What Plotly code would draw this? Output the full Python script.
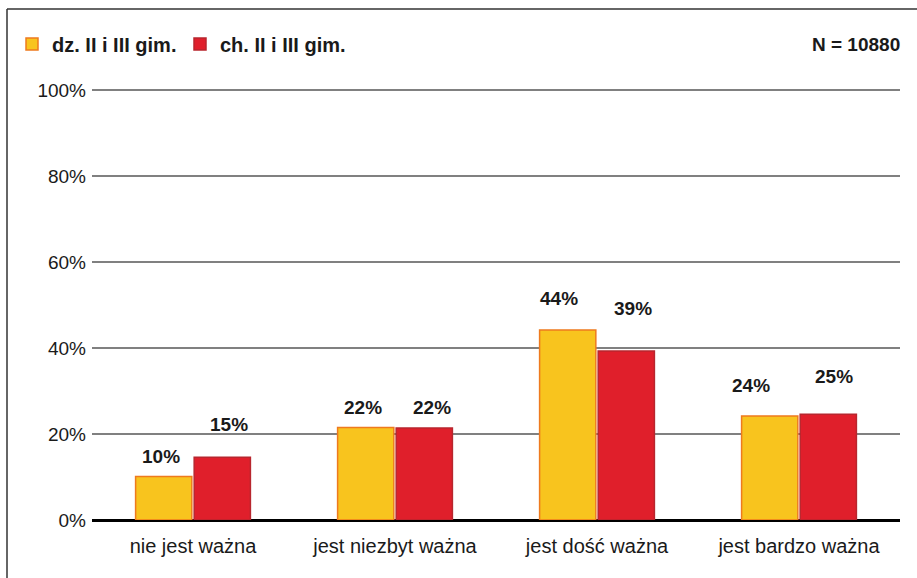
import plotly.graph_objects as go

categories = ["nie jest ważna", "jest niezbyt ważna", "jest dość ważna", "jest bardzo ważna"]
series_names = ["dz. II i III gim.", "ch. II i III gim."]
girls = [10.1, 21.5, 44.2, 24.2]
boys = [14.6, 21.4, 39.3, 24.6]
girls_labels = ["10%", "22%", "44%", "24%"]
boys_labels = ["15%", "22%", "39%", "25%"]
y_ticks = [0, 20, 40, 60, 80, 100]
y_tick_text = ["0%", "20%", "40%", "60%", "80%", "100%"]
n_text = "N = 10880"

FONT = "Liberation Sans, Arial, sans-serif"
W, H = 917, 578
L, R, T, B = 92, 17, 88, 58
PW, PH = W - L - R, H - T - B
PX_PER_UNIT = 4.3
Y_MAX = 100 + (90 - T) / PX_PER_UNIT

fig = go.Figure()
fig.add_trace(go.Bar(x=categories, y=girls, name="<b>%s</b>" % series_names[0],
                     marker=dict(color="#F8C41E", line=dict(color="#EE7A1E", width=1.5))))
fig.add_trace(go.Bar(x=categories, y=boys, name="<b>%s</b>" % series_names[1],
                     marker=dict(color="#E01F2B", line=dict(color="#B8262E", width=1.5))))

# data labels (pixel offsets are styling only)
g_dy = [20, 20, 31, 30]
g_dx = [-3, -3, -9, -19]
b_dy = [33, 20, 43, 38]
b_dx = [6, 7, 6, 5]
half = 29.5
for i, c in enumerate(categories):
    fig.add_annotation(x=c, y=girls[i], text="<b>%s</b>" % girls_labels[i], showarrow=False,
                       xshift=-half + g_dx[i], yshift=g_dy[i], yanchor="middle",
                       font=dict(family=FONT, size=19, color="#1a1a1a"))
    fig.add_annotation(x=c, y=boys[i], text="<b>%s</b>" % boys_labels[i], showarrow=False,
                       xshift=half + b_dx[i], yshift=b_dy[i], yanchor="middle",
                       font=dict(family=FONT, size=19, color="#1a1a1a"))

fig.add_annotation(xref="paper", yref="paper", x=(902 - L) / PW, y=(H - B - 44) / PH,
                   xanchor="right", yanchor="middle", showarrow=False,
                   text="<b>%s</b>" % n_text, font=dict(family=FONT, size=19, color="#1a1a1a"))

# frame (top and left border)
fig.add_shape(type="line", xref="paper", yref="paper",
              x0=(7 - L) / PW, x1=(W + 5 - L) / PW, y0=(H - B - 9) / PH, y1=(H - B - 9) / PH,
              line=dict(color="#333333", width=1.5))
fig.add_shape(type="line", xref="paper", yref="paper",
              x0=(7 - L) / PW, x1=(7 - L) / PW, y0=(H - B - 9) / PH, y1=(H - B - H - 5) / PH,
              line=dict(color="#333333", width=1.5))

fig.update_layout(
    width=W, height=H,
    margin=dict(l=L, r=R, t=T, b=B),
    paper_bgcolor="white", plot_bgcolor="white",
    barmode="group", bargap=0.42, bargroupgap=0.04,
    font=dict(family=FONT, size=19, color="#1a1a1a"),
    showlegend=True,
    legend=dict(orientation="h", x=(12 - L) / PW, xanchor="left",
                y=(H - B - 44) / PH, yanchor="middle",
                font=dict(family=FONT, size=20, color="#1a1a1a"),
                entrywidth=123, itemclick=False, itemdoubleclick=False,
                bgcolor="rgba(0,0,0,0)"),
    xaxis=dict(showgrid=False, showline=False, ticks="", tickfont=dict(size=20),
               ticklabelstandoff=12),
    yaxis=dict(range=[0, Y_MAX], tickvals=y_ticks, ticktext=y_tick_text,
               showgrid=True, gridcolor="#808080", gridwidth=1.5,
               zeroline=True, zerolinecolor="#000000", zerolinewidth=2.5,
               showline=False, ticks="", ticklabelstandoff=5, tickfont=dict(size=19)),
)

fig.write_html("out.html", config={"displayModeBar": False},
               post_script="document.body.style.margin='0';document.body.style.overflow='hidden';")
